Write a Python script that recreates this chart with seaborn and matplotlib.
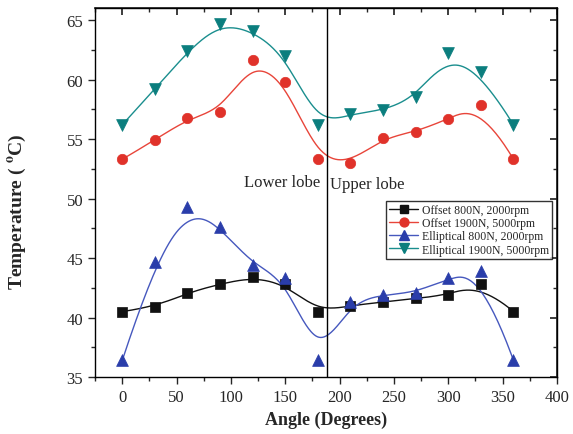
import numpy as np
import pandas as pd
import seaborn as sns
import matplotlib
matplotlib.use("Agg")
import matplotlib.pyplot as plt
from matplotlib.lines import Line2D
from matplotlib.ticker import MultipleLocator

angles = [0, 30, 60, 90, 120, 150, 180, 210, 240, 270, 300, 330, 360]
offset_800 = [40.5, 40.9, 42.1, 42.8, 43.4, 42.8, 40.5, 41.0, 41.3, 41.6, 41.9, 42.8, 40.5]
offset_1900 = [53.3, 54.9, 56.8, 57.3, 61.6, 59.8, 53.3, 53.0, 55.1, 55.6, 56.7, 57.9, 53.3]
ellip_800 = [36.4, 44.7, 49.3, 47.6, 44.4, 43.3, 36.4, 41.3, 41.9, 42.1, 43.3, 43.9, 36.4]
ellip_1900 = [56.2, 59.2, 62.4, 64.7, 64.1, 62.0, 56.2, 57.1, 57.4, 58.5, 62.2, 60.6, 56.2]
labels = ["Offset 800N, 2000rpm", "Offset 1900N, 5000rpm",
          "Elliptical 800N, 2000rpm", "Elliptical 1900N, 5000rpm"]
divider_angle = 188

sns.set_theme(style="ticks")
plt.rcParams['font.family'] = ['Liberation Serif', 'DejaVu Serif']
plt.rcParams['mathtext.fontset'] = 'stix'


def bspline_curve(xs, ys, k=3, num=400):
    P = np.column_stack([xs, ys]).astype(float)
    n = len(P)
    m = n - k
    knots = np.concatenate([np.zeros(k), np.arange(m + 1), np.full(k, m)]).astype(float)
    t = np.linspace(0, m, num)
    t[-1] = m - 1e-9
    N = np.zeros((num, len(knots) - 1))
    for i in range(len(knots) - 1):
        N[:, i] = ((t >= knots[i]) & (t < knots[i + 1])).astype(float)
    for d in range(1, k + 1):
        Nn = np.zeros((num, len(knots) - 1 - d))
        for i in range(len(knots) - 1 - d):
            a = knots[i + d] - knots[i]
            b = knots[i + d + 1] - knots[i + 1]
            term = np.zeros(num)
            if a > 0:
                term += (t - knots[i]) / a * N[:, i]
            if b > 0:
                term += (knots[i + d + 1] - t) / b * N[:, i + 1]
            Nn[:, i] = term
        N = Nn
    C = N @ P
    return C[:, 0], C[:, 1]


fig = plt.figure(figsize=(5.73, 4.35), dpi=100)
ax = fig.add_axes([0.166, 0.131, 0.806, 0.848])

series = [offset_800, offset_1900, ellip_800, ellip_1900]
mcolors = ["#111111", "#E0322A", "#2A3DAA", "#0B7E7E"]
lcolors = ["#111111", "#E8453A", "#4658BE", "#1A8E8E"]
markers = ["s", "o", "^", "v"]
msizes = [6.5, 7.5, 8.5, 8.5]

for ys, mc, lc, mk, ms, lab in zip(series, mcolors, lcolors, markers, msizes, labels):
    cx, cy = bspline_curve(angles, ys)
    sns.lineplot(x=cx, y=cy, ax=ax, color=lc, lw=1.0, sort=False, estimator=None)
    df = pd.DataFrame({"a": angles, "t": ys})
    sns.scatterplot(data=df, x="a", y="t", ax=ax, marker=mk, s=ms ** 2,
                    color=mc, edgecolor=mc, linewidth=0.5, zorder=3)

ax.axvline(divider_angle, color="black", lw=1.0, zorder=2)
ax.text(182, 51.4, "Lower lobe", ha="right", va="center", fontsize=12)
ax.text(191, 51.2, "Upper lobe", ha="left", va="center", fontsize=12)

ax.set_xlim(-25, 400)
ax.set_ylim(35, 66)
ax.xaxis.set_major_locator(MultipleLocator(50))
ax.xaxis.set_minor_locator(MultipleLocator(25))
ax.yaxis.set_major_locator(MultipleLocator(5))
ax.yaxis.set_minor_locator(MultipleLocator(2.5))
ax.tick_params(axis="both", which="major", direction="out", length=5, width=1,
               labelsize=12, top=False, right=False)
ax.tick_params(axis="both", which="minor", direction="out", length=3, width=1,
               top=False, right=False)
for sp in ax.spines.values():
    sp.set_visible(True)
    sp.set_linewidth(1.0)
    sp.set_color("black")

axt = ax.secondary_xaxis("top")
axt.xaxis.set_major_locator(MultipleLocator(50))
axt.xaxis.set_minor_locator(MultipleLocator(25))
axt.tick_params(which="major", direction="in", length=5, labeltop=False)
axt.tick_params(which="minor", direction="in", length=3)
axr = ax.secondary_yaxis("right")
axr.yaxis.set_major_locator(MultipleLocator(5))
axr.yaxis.set_minor_locator(MultipleLocator(2.5))
axr.tick_params(which="major", direction="in", length=5, labelright=False)
axr.tick_params(which="minor", direction="in", length=3)

ax.set_xlabel("Angle (Degrees)", fontsize=13, fontweight="bold")
ax.set_ylabel("Temperature ( $\\mathbf{^{o}}$C)", fontsize=14, fontweight="bold")
ax.yaxis.set_label_coords(-0.145, 0.45)

handles = [Line2D([0], [0], color=lc, marker=mk, markersize=ms * 0.85, markerfacecolor=mc,
                  markeredgecolor=mc, lw=1.0)
           for mc, lc, mk, ms in zip(mcolors, lcolors, markers, msizes)]
leg = ax.legend(handles, labels, loc="upper right", bbox_to_anchor=(0.989, 0.477),
                fontsize=8.5, frameon=True, fancybox=False, handlelength=2.5,
                borderpad=0.25, labelspacing=0.1, handletextpad=0.3, borderaxespad=0)
leg.get_frame().set_edgecolor("black")
leg.get_frame().set_linewidth(1.0)

fig.savefig("out.png", dpi=100)
